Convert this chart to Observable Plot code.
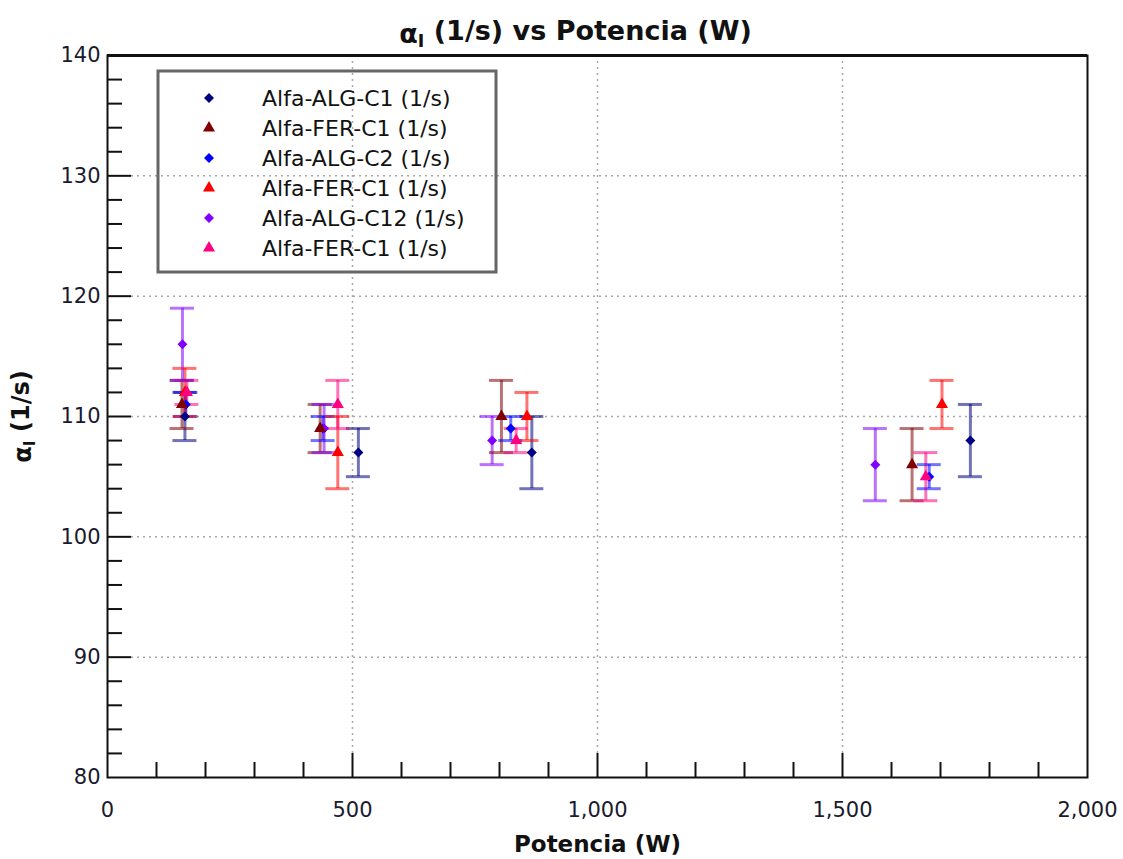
<!DOCTYPE html>
<html><head><meta charset="utf-8">
<script src="https://cdn.jsdelivr.net/npm/d3@7"></script>
<script src="https://cdn.jsdelivr.net/npm/@observablehq/plot@0.6"></script>
<style>body{margin:0;background:#fff}</style>
</head><body><div id="chart"></div>
<script>
// ---- data ----
const seriesNames = ["Alfa-ALG-C1 (1/s)", "Alfa-FER-C1 (1/s)", "Alfa-ALG-C2 (1/s)", "Alfa-FER-C1 (1/s)", "Alfa-ALG-C12 (1/s)", "Alfa-FER-C1 (1/s)"];
const seriesKind = ["ALG", "FER", "ALG", "FER", "ALG", "FER"];
const potenciaALG_C1 = [158, 512, 866, 1761];
const alfaALG_C1 = [110, 107, 107, 108];
const errALG_C1 = [2, 2, 3, 3];
const potenciaFER_C1a = [152, 434, 804, 1642];
const alfaFER_C1a = [111, 109, 110, 106];
const errFER_C1a = [2, 2, 3, 3];
const potenciaALG_C2 = [160, 440, 823, 1677];
const alfaALG_C2 = [111, 109, 109, 105];
const errALG_C2 = [1, 1, 1, 1];
const potenciaFER_C1b = [158, 470, 856, 1703];
const alfaFER_C1b = [112, 107, 110, 111];
const errFER_C1b = [2, 3, 2, 2];
const potenciaALG_C12 = [153, 442, 785, 1567];
const alfaALG_C12 = [116, 109, 108, 106];
const errALG_C12 = [3, 2, 2, 3];
const potenciaFER_C1c = [162, 470, 834, 1670];
const alfaFER_C1c = [112, 111, 108, 105];
const errFER_C1c = [1, 2, 1, 2];
const yTickValues = [80, 90, 100, 110, 120, 130, 140];
const xTickValues = [0, 500, 1000, 1500, 2000];
const yMinor = d3.range(82, 140, 2).filter(v => v % 10 !== 0);
const xMinor = d3.range(100, 2000, 100).filter(v => v % 500 !== 0);
const titleText = "αI (1/s) vs Potencia (W)";
const xLabel = "Potencia (W)";
const yLabel = "αI (1/s)";

// ---- styles ----
const colors = ["#000080", "#800000", "#0000ff", "#ff0000", "#8000ff", "#ff0080"];

const potencias = [potenciaALG_C1, potenciaFER_C1a, potenciaALG_C2, potenciaFER_C1b, potenciaALG_C12, potenciaFER_C1c];
const alfas = [alfaALG_C1, alfaFER_C1a, alfaALG_C2, alfaFER_C1b, alfaALG_C12, alfaFER_C1c];
const errs = [errALG_C1, errFER_C1a, errALG_C2, errFER_C1b, errALG_C12, errFER_C1c];
const rows = seriesNames.flatMap((name, s) => potencias[s].map((p, i) => ({s, name, kind: seriesKind[s], p, a: alfas[s][i], e: errs[s][i]})));

const width = 1123, height = 859, ml = 107, mr = 36, mt = 55, mb = 82;
const fw = width - ml - mr, fh = height - mt - mb;
const ink = "#111";
const tickInk = "#1a1a2e";
const grid = {stroke: "#a8a8a8", strokeDasharray: "2,4", strokeWidth: 1.5};

const chart = Plot.plot({
  width, height, marginLeft: ml, marginRight: mr, marginTop: mt, marginBottom: mb,
  style: {fontFamily: "DejaVu Sans", fontSize: "20px", background: "white", color: ink},
  x: {domain: [0, 2000]},
  y: {domain: [80, 140]},
  color: {type: "ordinal", domain: d3.range(6), range: colors},
  marks: [
    Plot.ruleY(yTickValues.slice(1, -1), {y: d => d, insetLeft: 24, ...grid}),
    Plot.ruleX(xTickValues.slice(1, -1), {x: d => d, insetBottom: 24, ...grid}),
    Plot.ruleX(rows, {x: "p", y1: d => d.a - d.e, y2: d => d.a + d.e, stroke: "s", strokeOpacity: 0.55, strokeWidth: 3}),
    Plot.ruleY(rows, {y: d => d.a + d.e, x1: "p", x2: "p", insetLeft: -12, insetRight: -12, stroke: "s", strokeOpacity: 0.55, strokeWidth: 3}),
    Plot.ruleY(rows, {y: d => d.a - d.e, x1: "p", x2: "p", insetLeft: -12, insetRight: -12, stroke: "s", strokeOpacity: 0.55, strokeWidth: 3}),
    Plot.dot(rows.filter(d => d.kind === "ALG"), {x: "p", y: "a", fill: "s", symbol: "diamond2", r: 4.5}),
    Plot.dot(rows.filter(d => d.kind === "FER"), {x: "p", y: "a", fill: "s", symbol: "triangle", r: 4.5}),
    Plot.tickY(yMinor, {y: d => d, insetRight: fw - 15, stroke: ink, strokeWidth: 2}),
    Plot.tickY(yTickValues.slice(1, -1), {y: d => d, insetRight: fw - 24, stroke: ink, strokeWidth: 2}),
    Plot.tickX(xMinor, {x: d => d, insetTop: fh - 15, stroke: ink, strokeWidth: 2}),
    Plot.tickX(xTickValues.slice(1, -1), {x: d => d, insetTop: fh - 24, stroke: ink, strokeWidth: 2}),
    Plot.frame({stroke: ink, strokeWidth: 2}),
    Plot.ruleY([140], {stroke: ink, strokeWidth: 3}),
    Plot.axisY(yTickValues, {tickSize: 0, tickPadding: 7, label: null, fontSize: 21, fill: tickInk}),
    Plot.axisX(xTickValues, {tickSize: 0, tickPadding: 25, label: null, fontSize: 21, tickFormat: d3.format(","), fill: tickInk}),
    Plot.text([titleText], {text: d => d, frameAnchor: "top", textAnchor: "middle", dx: -22, dy: -32, fontSize: 27, fontWeight: "bold", fill: ink}),
    Plot.text([xLabel], {text: d => d, frameAnchor: "bottom", textAnchor: "middle", dy: 74, fontSize: 23, fontWeight: "bold", fill: ink}),
    Plot.text([yLabel], {text: d => d, frameAnchor: "left", textAnchor: "middle", dx: -84, rotate: -90, fontSize: 24, fontWeight: "bold", fill: ink})
  ]
});
document.getElementById("chart").appendChild(chart);

const svg = d3.select(chart.tagName.toLowerCase() === "svg" ? chart : chart.querySelector("svg"));
// make sure tick labels use the intended size
svg.selectAll('g[aria-label="y-axis tick label"], g[aria-label="x-axis tick label"]').attr("font-size", 21);

// subscript I in alpha labels
svg.selectAll("text").filter(function() { return this.textContent.startsWith("αI"); }).each(function() {
  const t = d3.select(this);
  const rest = this.textContent.slice(2);
  t.text(null);
  t.append("tspan").text("α");
  t.append("tspan").attr("font-size", "65%").attr("dy", "0.25em").text("I");
  t.append("tspan").attr("dy", "-0.25em").text(rest);
});

// legend
const lg = svg.append("g").attr("font-family", "DejaVu Sans").attr("font-size", 22).attr("text-anchor", "start");
lg.append("rect").attr("x", 158).attr("y", 71).attr("width", 338).attr("height", 201)
  .attr("fill", "none").attr("stroke", "#666").attr("stroke-width", 3);
seriesNames.forEach((name, i) => {
  const y = 98 + i * 30;
  const sym = seriesKind[i] === "ALG" ? d3.symbolDiamond2 : d3.symbolTriangle;
  const r = 4.5;
  lg.append("path").attr("transform", `translate(209,${y})`)
    .attr("d", d3.symbol(sym, r * r * Math.PI)()).attr("fill", colors[i]);
  lg.append("text").attr("x", 262).attr("y", y).attr("dy", "0.35em").attr("fill", ink).attr("text-anchor", "start").text(name);
});
</script>
</body></html>
